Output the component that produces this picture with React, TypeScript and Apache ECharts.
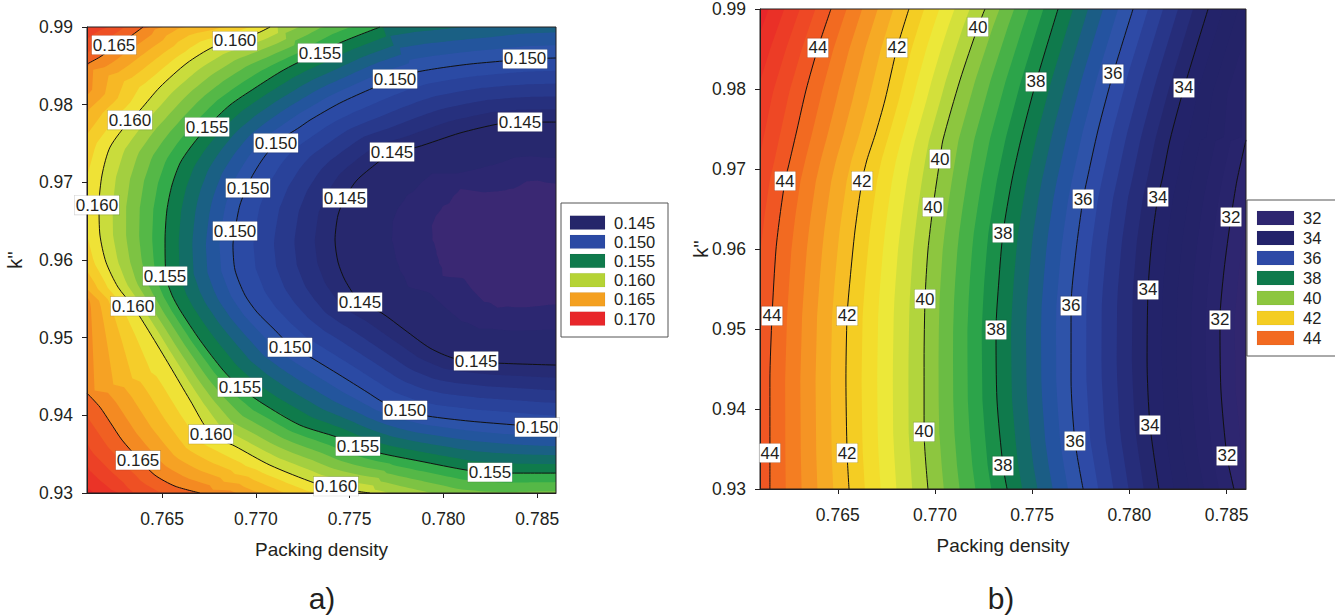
import React, { useEffect, useRef } from 'react';
import * as echarts from 'echarts';

// ---------- axes ----------
const X_MIN = 0.761;
const X_MAX = 0.786;
const Y_MIN = 0.93;
const Y_MAX = 0.99;
const xTicks = [0.765, 0.77, 0.775, 0.78, 0.785];
const yTicks = [0.93, 0.94, 0.95, 0.96, 0.97, 0.98, 0.99];

// ---------- plot a) contour lines (read from picture) ----------
const a165Top = [[0.761, 0.98523], [0.76169, 0.98614], [0.76244, 0.98742], [0.76319, 0.98858], [0.76399, 0.99]];
const a165Bottom = [[0.761, 0.94286], [0.76169, 0.94106], [0.76223, 0.93912], [0.76287, 0.93681], [0.76372, 0.93449], [0.76462, 0.9323], [0.76569, 0.93088], [0.76702, 0.93]];
const a160 = [[0.77076, 0.99], [0.77011, 0.98923], [0.76889, 0.9882], [0.76772, 0.98742], [0.76633, 0.98536], [0.76489, 0.98227], [0.76383, 0.97931], [0.76329, 0.97802], [0.76223, 0.97454], [0.7618, 0.97094], [0.76164, 0.96707], [0.76169, 0.96321], [0.76201, 0.95973], [0.76265, 0.95651], [0.76345, 0.95406], [0.76436, 0.95059], [0.76542, 0.94634], [0.76649, 0.94196], [0.76761, 0.93758], [0.76889, 0.93603], [0.77075, 0.93359], [0.77315, 0.93127], [0.77427, 0.93062], [0.77608, 0.93]];
const a155 = [[0.77662, 0.99], [0.77459, 0.98807], [0.77342, 0.98665], [0.77219, 0.98536], [0.77129, 0.9842], [0.76995, 0.98214], [0.76862, 0.97995], [0.7674, 0.97712], [0.76649, 0.97442], [0.76596, 0.97248], [0.76553, 0.96965], [0.76526, 0.96643], [0.76516, 0.96257], [0.76521, 0.95793], [0.76553, 0.95548], [0.76596, 0.95355], [0.76702, 0.94969], [0.76825, 0.94582], [0.76915, 0.94363], [0.77033, 0.94157], [0.77235, 0.93874], [0.77433, 0.93719], [0.77544, 0.93603], [0.77662, 0.93513], [0.77875, 0.9341], [0.78125, 0.93294], [0.78248, 0.93268], [0.78365, 0.93256], [0.786, 0.93256]];
const a150 = [[0.786, 0.98601], [0.78435, 0.98588], [0.78317, 0.98562], [0.78141, 0.98523], [0.77982, 0.98472], [0.77859, 0.9842], [0.77742, 0.9833], [0.77624, 0.98214], [0.77448, 0.98021], [0.77289, 0.97802], [0.77235, 0.97712], [0.77107, 0.97506], [0.77033, 0.97287], [0.76969, 0.97029], [0.76915, 0.96707], [0.76889, 0.96385], [0.76878, 0.96192], [0.76889, 0.9587], [0.76942, 0.95548], [0.77006, 0.95329], [0.77102, 0.95097], [0.77182, 0.94904], [0.77299, 0.94737], [0.77448, 0.94518], [0.77593, 0.94299], [0.77678, 0.9417], [0.77795, 0.94067], [0.77918, 0.9399], [0.78141, 0.93925], [0.78392, 0.93874], [0.78499, 0.93848], [0.786, 0.93835]];
const a145 = [[0.786, 0.97776], [0.78408, 0.97776], [0.78291, 0.97751], [0.78088, 0.97635], [0.77859, 0.97454], [0.77726, 0.9739], [0.77646, 0.97248], [0.77539, 0.97029], [0.77475, 0.96798], [0.77438, 0.96579], [0.77422, 0.96257], [0.77438, 0.95973], [0.77475, 0.95741], [0.77555, 0.95458], [0.77672, 0.95316], [0.77795, 0.95097], [0.77928, 0.94866], [0.78051, 0.94737], [0.78174, 0.94698], [0.78291, 0.94672], [0.786, 0.94647]];
// location of the minimum of plot a (centre of the C-shaped contours)
const minimumA = [0.786, 0.9625];

// contour labels of plot a: [x, y, level]
const labelsA = [
  [0.76244, 0.98768, 0.165], [0.76372, 0.93423, 0.165],
  [0.76889, 0.9882, 0.16], [0.76329, 0.97802, 0.16], [0.76153, 0.96707, 0.16], [0.76345, 0.95406, 0.16], [0.76761, 0.93758, 0.16], [0.77427, 0.93088, 0.16],
  [0.77342, 0.98665, 0.155], [0.7674, 0.97712, 0.155], [0.76516, 0.95793, 0.155], [0.76915, 0.94363, 0.155], [0.77544, 0.93603, 0.155], [0.78248, 0.93268, 0.155],
  [0.78435, 0.98588, 0.15], [0.77742, 0.9833, 0.15], [0.77107, 0.97506, 0.15], [0.76958, 0.96926, 0.15], [0.76889, 0.96373, 0.15], [0.77182, 0.94878, 0.15], [0.77795, 0.94067, 0.15], [0.78499, 0.93848, 0.15],
  [0.78408, 0.97776, 0.145], [0.77726, 0.9739, 0.145], [0.77475, 0.96798, 0.145], [0.77555, 0.95458, 0.145], [0.78174, 0.94698, 0.145],
];

// ---------- plot b) contour lines (read from picture) ----------
const b44 = [[0.76465, 0.99], [0.76398, 0.98513], [0.76337, 0.97988], [0.7629, 0.97488], [0.76254, 0.97113], [0.76229, 0.9685], [0.76203, 0.96425], [0.76182, 0.95988], [0.76162, 0.95163], [0.76151, 0.94363], [0.76151, 0.9345], [0.76151, 0.93]];
const b42 = [[0.76866, 0.99], [0.76805, 0.98513], [0.76743, 0.97863], [0.76692, 0.97425], [0.7665, 0.97113], [0.76625, 0.9685], [0.76589, 0.96238], [0.76563, 0.95613], [0.76548, 0.95163], [0.76542, 0.94363], [0.76548, 0.9345], [0.76558, 0.93]];
const b40 = [[0.77257, 0.99], [0.77221, 0.98775], [0.77129, 0.98113], [0.77041, 0.97363], [0.77026, 0.97125], [0.7699, 0.96525], [0.76964, 0.95988], [0.76949, 0.95375], [0.76944, 0.94613], [0.76944, 0.93713], [0.76964, 0.93]];
const b38 = [[0.77633, 0.99], [0.7752, 0.98088], [0.77448, 0.97425], [0.77396, 0.96863], [0.7735, 0.962], [0.77329, 0.95613], [0.77314, 0.94988], [0.77319, 0.94113], [0.7735, 0.93288], [0.77371, 0.93]];
const b36 = [[0.78019, 0.99], [0.77916, 0.98188], [0.77839, 0.97488], [0.77782, 0.96863], [0.77762, 0.96625], [0.77726, 0.95988], [0.777, 0.95288], [0.777, 0.94363], [0.7772, 0.936], [0.77762, 0.93]];
const b34 = [[0.78405, 0.99], [0.78281, 0.98013], [0.78209, 0.97363], [0.78168, 0.96863], [0.78147, 0.9665], [0.78116, 0.96113], [0.78096, 0.95488], [0.78091, 0.94613], [0.78106, 0.938], [0.78152, 0.93]];
const b32 = [[0.786, 0.97363], [0.78554, 0.96863], [0.78523, 0.964], [0.78487, 0.95738], [0.78466, 0.95113], [0.78471, 0.94238], [0.78502, 0.93413], [0.78538, 0.93]];

const labelsB = [
  [0.76398, 0.98513, 44], [0.76229, 0.9685, 44], [0.76162, 0.95163, 44], [0.76151, 0.9345, 44],
  [0.76805, 0.98513, 42], [0.76625, 0.9685, 42], [0.76548, 0.95163, 42], [0.76548, 0.9345, 42],
  [0.77221, 0.98775, 40], [0.77026, 0.97125, 40], [0.7699, 0.96525, 40], [0.76949, 0.95375, 40], [0.76944, 0.93713, 40],
  [0.7752, 0.98088, 38], [0.7735, 0.962, 38], [0.77314, 0.94988, 38], [0.7735, 0.93288, 38],
  [0.77916, 0.98188, 36], [0.77762, 0.96625, 36], [0.777, 0.95288, 36], [0.7772, 0.936, 36],
  [0.78281, 0.98013, 34], [0.78147, 0.9665, 34], [0.78096, 0.95488, 34], [0.78106, 0.938, 34],
  [0.78523, 0.964, 32], [0.78466, 0.95113, 32], [0.78502, 0.93413, 32],
];

// ---------- legends ----------
const legendALevels = ['0.145', '0.150', '0.155', '0.160', '0.165', '0.170'];
const legendBLevels = ['32', '34', '36', '38', '40', '42', '44'];

// ---------- fill colour steps (colour of the band just below each level) ----------
const fillStepsA = [0.17, 0.169, 0.168, 0.167, 0.166, 0.165, 0.164, 0.163, 0.162, 0.161, 0.16, 0.159, 0.158, 0.157, 0.156, 0.155, 0.154, 0.153, 0.152, 0.151, 0.15, 0.149, 0.148, 0.147, 0.146, 0.145, 0.1422, 0.1402];
const fillColorsA = [
  '#e8262a', '#ea3327', '#ec4126', '#ee5024', '#f06022',
  '#f48a22', '#f6a224', '#f7b825', '#f5cd2a', '#efe236',
  '#c9dc3c', '#a3cf40', '#7dc343', '#55b847', '#33ab4a',
  '#0f7b4b', '#126d66', '#1a6084', '#23559d', '#2c53a8',
  '#2b4aa4', '#29429a', '#28398c', '#26307e', '#262b74',
  '#27286e', '#2c2771', '#3a2873',
];
const fillStepsB = [46, 45.6, 45.2, 44.8, 44.4, 44, 43.6, 43.2, 42.8, 42.4, 42, 41.6, 41.2, 40.8, 40.4, 40, 39.6, 39.2, 38.8, 38.4, 38, 37.6, 37.2, 36.8, 36.4, 36, 35.6, 35.2, 34.8, 34.4, 34, 33.6, 33.2, 32.8, 32.4, 32, 31.6];
const fillColorsB = [
  '#e8262a', '#ea3027', '#ec3c26', '#ee4825', '#f05623',
  '#f26a21', '#f47e22', '#f59424', '#f6aa25', '#f6bd25',
  '#f4cd23', '#f3dd2c', '#ece839', '#d3e03b', '#b2d53d',
  '#8dc63f', '#6abc44', '#47b147', '#2ca44a', '#1a8f49',
  '#0f7a4c', '#146b69', '#1b5d85', '#2453a0', '#2e53a9',
  '#2e4aa6', '#2b4098', '#283689', '#262d7a', '#24276e',
  '#23236a', '#232368', '#242368', '#26236a', '#28246c',
  '#2e2670', '#31266f',
];
const topColor = '#e6242a';

// ---------- styles ----------
const FONT = '"Liberation Sans", Arial, Helvetica, sans-serif';
const INK = '#231f20';
const legendAColors = ['#25266a', '#2b4aa4', '#0f7a4c', '#b5d335', '#f4a020', '#e8262a'];
const legendBColors = ['#2e2670', '#23236a', '#2e4aa6', '#0f7a4c', '#8dc63f', '#f4cd23', '#f26a21'];

const contoursA = [
  { level: 0.165, pts: a165Top }, { level: 0.165, pts: a165Bottom }, { level: 0.16, pts: a160 },
  { level: 0.155, pts: a155 }, { level: 0.15, pts: a150 }, { level: 0.145, pts: a145 },
];
const contoursB = [
  { level: 44, pts: b44 }, { level: 42, pts: b42 }, { level: 40, pts: b40 }, { level: 38, pts: b38 },
  { level: 36, pts: b36 }, { level: 34, pts: b34 }, { level: 32, pts: b32 },
];

type P2 = number[];
type Ray = { o: P2; d: P2; sMax: number };
type Prof = { s: number; v: number }[];

function cross(a: P2, b: P2) {
  return a[0] * b[1] - a[1] * b[0];
}

// distance along a ray to the crossing with a polyline (or -1)
function hit(ray: Ray, pts: P2[]) {
  let best = -1;
  for (let i = 0; i < pts.length - 1; i++) {
    const A = pts[i];
    const B = pts[i + 1];
    const e = [B[0] - A[0], B[1] - A[1]];
    const den = cross(ray.d, e);
    if (Math.abs(den) < 1e-9) continue;
    const f = [A[0] - ray.o[0], A[1] - ray.o[1]];
    const s = cross(f, e) / den;
    const w = cross(f, ray.d) / den;
    if (w >= -1e-4 && w <= 1 + 1e-4 && s >= -1e-6 && s <= ray.sMax + 0.5) {
      if (best < 0 || s < best) best = s;
    }
  }
  return best;
}

function profileOf(ray: Ray, contours: { level: number; pts: P2[] }[]): Prof {
  const raw: Prof = [];
  contours.forEach((c) => {
    const s = hit(ray, c.pts);
    if (s >= 0) raw.push({ s, v: c.level });
  });
  raw.sort((p, q) => p.s - q.s);
  const prof: Prof = [];
  raw.forEach((p) => {
    if (prof.length === 0 || (p.v > prof[prof.length - 1].v && p.s > prof[prof.length - 1].s + 0.5)) prof.push(p);
  });
  return prof;
}

// position along the ray where the field reaches value t; beyond the outermost
// crossing the field may not reach the next contour level (that contour was not crossed)
function distanceFor(prof: Prof, t: number, sMax: number, levels: number[], margin: number) {
  const n = prof.length;
  if (n === 0) return sMax;
  let s = prof[0].s;
  if (n >= 2) {
    const first = prof[0];
    const last = prof[n - 1];
    if (t <= first.v) {
      let kv = (prof[1].v - first.v) / (prof[1].s - first.s);
      const below = levels.filter((l) => l < first.v);
      if (below.length && first.s > 0) {
        const lim = (first.v - (below[below.length - 1] + margin)) / first.s;
        kv = Math.min(kv, lim);
      }
      s = first.s - (first.v - t) / kv;
    } else if (t >= last.v) {
      let kv = (last.v - prof[n - 2].v) / (last.s - prof[n - 2].s);
      const above = levels.filter((l) => l > last.v);
      if (above.length && sMax > last.s) {
        const lim = (above[0] - margin - last.v) / (sMax - last.s);
        kv = Math.min(kv, lim);
      }
      s = last.s + (t - last.v) / kv;
    } else {
      for (let i = 0; i < n - 1; i++) {
        if (t >= prof[i].v && t <= prof[i + 1].v) {
          s = prof[i].s + ((t - prof[i].v) / (prof[i + 1].v - prof[i].v)) * (prof[i + 1].s - prof[i].s);
          break;
        }
      }
    }
  }
  return Math.max(0, Math.min(sMax, s));
}

function fillGroup(rays: Ray[], contoursPx: { level: number; pts: P2[] }[], steps: number[], colors: string[], rect: any, margin: number) {
  const levels = Array.from(new Set(contoursPx.map((c) => c.level))).sort((p, q) => p - q);
  const profs = rays.map((r) => profileOf(r, contoursPx));
  const children: any[] = [
    { type: 'rect', shape: { x: rect.x, y: rect.y, width: rect.width, height: rect.height }, style: { fill: topColor } },
  ];
  steps.forEach((t, k) => {
    const outer = rays.map((r, i) => {
      const s = distanceFor(profs[i], t, r.sMax, levels, margin);
      return [r.o[0] + s * r.d[0], r.o[1] + s * r.d[1]];
    });
    const inner = rays.map((r) => r.o).reverse();
    children.push({
      type: 'polygon',
      shape: { points: [...inner, ...outer] },
      style: { fill: colors[k], stroke: null },
    });
  });
  return { type: 'group', children };
}

function sMaxOf(o: P2, d: P2, rect: any) {
  const x0 = rect.x, y0 = rect.y, x1 = rect.x + rect.width, y1 = rect.y + rect.height;
  let best = 1e9;
  if (d[0] < -1e-9) best = Math.min(best, (x0 - o[0]) / d[0]);
  if (d[0] > 1e-9) best = Math.min(best, (x1 - o[0]) / d[0]);
  if (d[1] < -1e-9) best = Math.min(best, (y0 - o[1]) / d[1]);
  if (d[1] > 1e-9) best = Math.min(best, (y1 - o[1]) / d[1]);
  return Math.max(0, best);
}

function renderFillA(params: any, api: any) {
  const rect = params.coordSys;
  const contoursPx = contoursA.map((c) => ({ level: c.level, pts: c.pts.map((p) => api.coord(p)) }));
  const C = api.coord(minimumA);
  const angles: number[] = [];
  for (let a = 90; a <= 270.001; a += 0.75) angles.push(Math.min(a, 270));
  const corners = [[rect.x, rect.y], [rect.x, rect.y + rect.height]];
  corners.forEach((p) => {
    let a = (Math.atan2(C[1] - p[1], p[0] - C[0]) * 180) / Math.PI;
    if (a < 0) a += 360;
    angles.push(a);
  });
  angles.sort((p, q) => p - q);
  const rays: Ray[] = angles.map((a) => {
    const r = (a * Math.PI) / 180;
    const d = [Math.abs(Math.cos(r)) < 1e-9 ? 0 : Math.cos(r), -Math.sin(r)];
    return { o: C, d, sMax: sMaxOf(C, d, rect) };
  });
  return fillGroup(rays, contoursPx, fillStepsA, fillColorsA, rect, 0.0006);
}

function renderFillB(params: any, api: any) {
  const rect = params.coordSys;
  const contoursPx = contoursB.map((c) => ({ level: c.level, pts: c.pts.map((p) => api.coord(p)) }));
  const xR = rect.x + rect.width;
  const rays: Ray[] = [];
  const n = 120;
  for (let i = 0; i <= n; i++) {
    const y = rect.y + (rect.height * i) / n;
    rays.push({ o: [xR, y], d: [-1, 0], sMax: rect.width });
  }
  return fillGroup(rays, contoursPx, fillStepsB, fillColorsB, rect, 0.3);
}

function fillSeries(gi: number, renderItem: any) {
  return {
    type: 'custom',
    xAxisIndex: gi,
    yAxisIndex: gi,
    silent: true,
    z: 1,
    clip: true,
    encode: { x: 0, y: 1 },
    data: [[X_MIN, Y_MIN]],
    renderItem,
  };
}

function lineSeries(gi: number, pts: P2[]) {
  return {
    type: 'line',
    xAxisIndex: gi,
    yAxisIndex: gi,
    data: pts,
    symbol: 'none',
    showSymbol: false,
    silent: true,
    z: 3,
    clip: true,
    smooth: 0.25,
    lineStyle: { color: '#111', width: 1 },
  };
}

function labelSeries(gi: number, labels: number[][], digits: number) {
  return {
    type: 'scatter',
    xAxisIndex: gi,
    yAxisIndex: gi,
    data: labels,
    symbol: 'rect',
    symbolSize: 1,
    itemStyle: { color: '#fff', opacity: 1 },
    silent: true,
    z: 6,
    clip: false,
    label: {
      show: true,
      position: 'inside',
      formatter: (p: any) => Number(p.value[2]).toFixed(digits),
      backgroundColor: '#ffffff',
      borderColor: 'rgba(0,0,0,0.18)',
      borderWidth: 0.6,
      padding: [1, 1, 0, 1],
      fontSize: 17,
      lineHeight: 18,
      color: INK,
      opacity: 1,
      fontFamily: FONT,
    },
  };
}

function xAxis(gi: number) {
  return {
    type: 'value',
    gridIndex: gi,
    min: X_MIN,
    max: X_MAX,
    z: 5,
    name: 'Packing density',
    nameLocation: 'middle',
    nameGap: 47,
    nameTextStyle: { fontSize: 19, color: INK, fontFamily: FONT },
    axisLine: { show: true, lineStyle: { color: INK, width: 1 } },
    axisTick: { show: true, length: 5, inside: false, customValues: xTicks, lineStyle: { color: INK } },
    axisLabel: { customValues: xTicks, formatter: (v: number) => v.toFixed(3), fontSize: 17.5, color: INK, margin: 17, fontFamily: FONT },
    splitLine: { show: false },
  };
}

function yAxis(gi: number) {
  return {
    type: 'value',
    gridIndex: gi,
    min: Y_MIN,
    max: Y_MAX,
    z: 5,
    axisLine: { show: true, lineStyle: { color: INK, width: 1 } },
    axisTick: { show: true, length: 5, inside: false, customValues: yTicks, lineStyle: { color: INK } },
    axisLabel: { customValues: yTicks, formatter: (v: number) => v.toFixed(2), fontSize: 17.5, color: INK, margin: 14, fontFamily: FONT },
    splitLine: { show: false },
  };
}

function legendGraphic(x: number, y: number, w: number, h: number, swX: number, swW: number, swH: number, firstTop: number, pitch: number, textX: number, levels: string[], colors: string[]) {
  const children: any[] = [
    { type: 'rect', shape: { x, y, width: w, height: h }, style: { fill: '#fff', stroke: '#555', lineWidth: 1 } },
  ];
  levels.forEach((lv, i) => {
    children.push({ type: 'rect', shape: { x: swX, y: firstTop + i * pitch, width: swW, height: swH }, style: { fill: colors[i], stroke: 'rgba(0,0,0,0.1)', lineWidth: 0.5 } });
    children.push({ type: 'text', x: textX, y: firstTop + i * pitch + swH / 2, style: { text: lv, fontSize: 16.5, fontFamily: FONT, fill: INK, align: 'left', verticalAlign: 'middle' } });
  });
  return { type: 'group', children };
}

function buildOption() {
  return {
    animation: false,
    backgroundColor: '#fff',
    grid: [
      { left: 87, top: 27, width: 469, height: 466, show: true, borderColor: INK, borderWidth: 1, backgroundColor: 'transparent', z: 5 },
      { left: 760, top: 9, width: 486, height: 480, show: true, borderColor: INK, borderWidth: 1, backgroundColor: 'transparent', z: 5 },
    ],
    xAxis: [xAxis(0), xAxis(1)],
    yAxis: [yAxis(0), yAxis(1)],
    series: [
      fillSeries(0, renderFillA),
      ...contoursA.map((c) => lineSeries(0, c.pts)),
      labelSeries(0, labelsA, 3),
      fillSeries(1, renderFillB),
      ...contoursB.map((c) => lineSeries(1, c.pts)),
      labelSeries(1, labelsB, 0),
    ],
    graphic: [
      legendGraphic(561, 203, 107, 134, 570, 35, 13.7, 215.7, 19.2, 614, legendALevels, legendAColors),
      legendGraphic(1247, 200, 100, 156, 1257, 37, 14, 211, 20, 1303, legendBLevels, legendBColors),
      { type: 'text', x: 15, y: 260, rotation: Math.PI / 2, style: { text: "k''", fontSize: 20, fontFamily: FONT, fill: INK, align: 'center', verticalAlign: 'middle' } },
      { type: 'text', x: 701, y: 249, rotation: Math.PI / 2, style: { text: "k''", fontSize: 20, fontFamily: FONT, fill: INK, align: 'center', verticalAlign: 'middle' } },
      { type: 'text', x: 322, y: 598, style: { text: 'a)', fontSize: 30, fontFamily: FONT, fill: INK, align: 'center', verticalAlign: 'middle' } },
      { type: 'text', x: 1001, y: 598, style: { text: 'b)', fontSize: 30, fontFamily: FONT, fill: INK, align: 'center', verticalAlign: 'middle' } },
    ],
  };
}

export default function App() {
  const ref = useRef<HTMLDivElement>(null);
  useEffect(() => {
    if (!ref.current) return;
    const chart = echarts.init(ref.current, null, { renderer: 'svg' });
    chart.setOption(buildOption() as any);
    return () => chart.dispose();
  }, []);
  return (
    <div
      ref={ref}
      style={{ position: 'fixed', left: 0, top: 0, width: 1335, height: 615, background: '#fff' }}
    />
  );
}
